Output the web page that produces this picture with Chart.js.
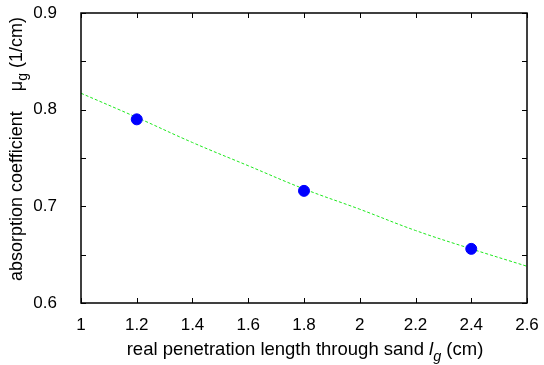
<!DOCTYPE html>
<html>
<head>
<meta charset="UTF-8">
<script src="https://cdn.jsdelivr.net/npm/chart.js"></script>
<style>
  html, body { margin: 0; padding: 0; background: #fff; }
  #wrap { width: 544px; height: 365px; }
</style>
</head>
<body>
<div id="wrap"><canvas id="c" width="544" height="365"></canvas></div>
<script>
// measured points
const lengths = [1.2, 1.8, 2.4];
const mu = [0.790, 0.716, 0.656];
// fitted curve
const fitX = [1.0, 1.2, 1.4, 1.6, 1.8, 2.0, 2.2, 2.4, 2.6];
const fitY = [0.817, 0.792, 0.766, 0.742, 0.718, 0.697, 0.675, 0.656, 0.638];
const xTicks = [1, 1.2, 1.4, 1.6, 1.8, 2, 2.2, 2.4, 2.6];
const yTicks = [0.6, 0.65, 0.7, 0.75, 0.8, 0.85, 0.9];

const FONT = '"Liberation Sans", Arial, sans-serif';

// draw text pieces with italic / subscript parts
function richText(ctx, parts, size) {
  let w = 0;
  parts.forEach(p => {
    const s = p.sub ? size * 0.78 : size;
    ctx.font = (p.italic ? 'italic ' : '') + s + 'px ' + FONT;
    p.w = ctx.measureText(p.t).width;
    p.s = s;
    w += p.w;
  });
  let x = -w / 2;
  parts.forEach(p => {
    ctx.font = (p.italic ? 'italic ' : '') + p.s + 'px ' + FONT;
    ctx.fillText(p.t, x, p.sub ? size * 0.3 : 0);
    x += p.w;
  });
}

const framePlugin = {
  id: 'frame',
  afterDraw(chart) {
    const ctx = chart.ctx;
    const a = chart.chartArea;
    const xs = chart.scales.x, ys = chart.scales.y;
    ctx.save();
    ctx.strokeStyle = '#000';
    ctx.lineWidth = 1.5;
    ctx.strokeRect(a.left, a.top, a.right - a.left, a.bottom - a.top);
    ctx.lineWidth = 1;
    ctx.beginPath();
    xTicks.forEach(v => {
      const px = Math.round(xs.getPixelForValue(v)) + 0.5;
      ctx.moveTo(px, a.bottom); ctx.lineTo(px, a.bottom - 5);
      ctx.moveTo(px, a.top); ctx.lineTo(px, a.top + 5);
    });
    yTicks.forEach(v => {
      const py = Math.round(ys.getPixelForValue(v)) + 0.5;
      ctx.moveTo(a.left, py); ctx.lineTo(a.left + 5, py);
      ctx.moveTo(a.right, py); ctx.lineTo(a.right - 5, py);
    });
    ctx.stroke();

    ctx.fillStyle = '#000';
    ctx.textBaseline = 'alphabetic';
    ctx.textAlign = 'left';
    // x title
    ctx.save();
    ctx.translate(305, 355);
    richText(ctx, [
      { t: 'real penetration length through sand ' },
      { t: 'l', italic: true },
      { t: 'g', italic: true, sub: true },
      { t: ' (cm)' }
    ], 18.5);
    ctx.restore();
    // y title
    ctx.save();
    ctx.translate(22, 149);
    ctx.rotate(-Math.PI / 2);
    richText(ctx, [
      { t: 'absorption coefficient    \u03bc' },
      { t: 'g', sub: true },
      { t: ' (1/cm)' }
    ], 18);
    ctx.restore();
    ctx.restore();
  }
};

new Chart(document.getElementById('c'), {
  type: 'scatter',
  data: {
    datasets: [
      {
        label: 'fit',
        data: fitX.map((x, i) => ({ x: x, y: fitY[i] })),
        showLine: true,
        borderColor: '#1ee81e',
        borderWidth: 1,
        borderDash: [3, 2],
        pointRadius: 0,
        tension: 0.4,
        order: 2
      },
      {
        label: 'data',
        data: lengths.map((x, i) => ({ x: x, y: mu[i] })),
        backgroundColor: '#0000ff',
        borderColor: '#0000ff',
        pointRadius: 5.5,
        order: 1
      }
    ]
  },
  options: {
    responsive: false,
    animation: false,
    layout: { padding: { top: 13, right: 17, left: 0, bottom: 0 } },
    plugins: { legend: { display: false }, tooltip: { enabled: false } },
    scales: {
      x: {
        type: 'linear', min: 1, max: 2.6,
        afterBuildTicks: s => { s.ticks = xTicks.map(v => ({ value: v })); },
        afterFit: s => { s.height = 62; s.paddingLeft = 0; s.paddingRight = 0; },
        grid: { display: false },
        border: { display: false },
        ticks: {
          color: '#000', padding: 4, maxRotation: 0,
          font: { family: FONT, size: 17 },
          callback: v => String(Math.round(v * 10) / 10)
        }
      },
      y: {
        type: 'linear', min: 0.6, max: 0.9,
        afterBuildTicks: s => { s.ticks = yTicks.map(v => ({ value: v })); },
        afterFit: s => { s.width = 81; s.paddingTop = 0; s.paddingBottom = 0; },
        grid: { display: false },
        border: { display: false },
        ticks: {
          color: '#000', padding: 16,
          font: { family: FONT, size: 17 },
          callback: v => (Math.abs(v * 10 - Math.round(v * 10)) < 1e-6 ? (Math.round(v * 10) / 10).toFixed(1) : '')
        }
      }
    }
  },
  plugins: [framePlugin]
});
</script>
</body>
</html>
